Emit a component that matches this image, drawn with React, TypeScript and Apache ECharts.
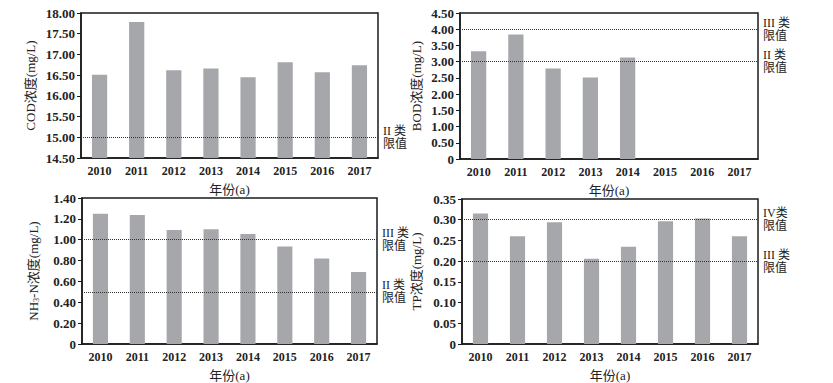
import React, { useEffect, useRef } from "react";
import * as echarts from "echarts";

const years = ["2010", "2011", "2012", "2013", "2014", "2015", "2016", "2017"];
const codValues = [16.51, 17.78, 16.62, 16.66, 16.45, 16.81, 16.57, 16.74];
const bodValues: (number | null)[] = [3.32, 3.84, 2.79, 2.51, 3.13, null, null, null];
const nh3Values = [1.25, 1.237, 1.093, 1.1, 1.055, 0.936, 0.82, 0.69];
const tpValues = [0.315, 0.26, 0.294, 0.206, 0.235, 0.296, 0.303, 0.26];

const codLimits = [{ value: 15, label: "II 类\n限值" }];
const bodLimits = [
  { value: 4, label: "III 类\n限值" },
  { value: 3, label: "II 类\n限值" },
];
const nh3Limits = [
  { value: 1, label: "III 类\n限值" },
  { value: 0.5, label: "II 类\n限值" },
];
const tpLimits = [
  { value: 0.3, label: "IV类\n限值" },
  { value: 0.2, label: "III 类\n限值" },
];

const FONT = "Liberation Serif, Times New Roman, Noto Sans CJK SC, serif";
const TXT = "#222";

export default function App() {
  const ref = useRef<HTMLDivElement>(null);
  useEffect(() => {
    document.body.style.margin = "0";
    const chart = echarts.init(ref.current!, null, { renderer: "svg" });

    const grids = [
      { left: 81, top: 13, width: 297, height: 145 },
      { left: 460, top: 13, width: 298, height: 146 },
      { left: 82, top: 198, width: 295, height: 149 },
      { left: 462, top: 199, width: 296, height: 147 },
    ];
    const yConf = [
      { min: 14.5, max: 18, interval: 0.5, name: "COD浓度(mg/L)", gap: 44 },
      { min: 0, max: 4.5, interval: 0.5, name: "BOD浓度(mg/L)", gap: 37 },
      { min: 0, max: 1.4, interval: 0.2, name: "{a|NH}{s|3}{a|-N浓度(mg/L)}", gap: 42 },
      { min: 0, max: 0.35, interval: 0.05, name: "TP浓度(mg/L)", gap: 39 },
    ];
    const data = [codValues, bodValues, nh3Values, tpValues];
    const limits = [codLimits, bodLimits, nh3Limits, tpLimits];

    chart.setOption({
      animation: false,
      backgroundColor: "#fff",
      textStyle: { fontFamily: FONT },
      grid: grids.map((g) => ({
        ...g,
        show: true,
        borderColor: "#1a1a1a",
        borderWidth: 1.5,
        backgroundColor: "transparent",
      })),
      xAxis: grids.map((_, i) => ({
        type: "category",
        gridIndex: i,
        data: years,
        name: "年份(a)",
        nameLocation: "middle",
        nameGap: 25,
        nameTextStyle: { fontFamily: FONT, fontSize: 13, color: TXT },
        axisLine: { lineStyle: { color: "#1a1a1a", width: 1.5 } },
        axisTick: { show: false },
        axisLabel: {
          fontFamily: FONT,
          fontSize: 12,
          fontWeight: "bold",
          color: TXT,
          margin: 7,
        },
        splitLine: { show: false },
      })),
      yAxis: yConf.map((c, i) => ({
        type: "value",
        gridIndex: i,
        min: c.min,
        max: c.max,
        interval: c.interval,
        name: c.name,
        nameLocation: "middle",
        nameRotate: 90,
        nameGap: c.gap,
        nameTextStyle: {
          fontFamily: FONT,
          fontSize: 13,
          color: TXT,
          rich: {
            a: { fontFamily: FONT, fontSize: 13, color: TXT },
            s: { fontFamily: FONT, fontSize: 8, color: TXT, verticalAlign: "bottom", padding: [6, 0, 0, 0] },
          },
        },
        axisLine: { show: true, lineStyle: { color: "#1a1a1a", width: 1.5 } },
        axisTick: { show: true, inside: false, length: 4, lineStyle: { color: "#1a1a1a" } },
        axisLabel: {
          fontFamily: FONT,
          fontSize: 13,
          fontWeight: "bold",
          color: TXT,
          margin: 6,
          formatter: (v: number) => (v === 0 ? "0" : v.toFixed(2)),
        },
        splitLine: { show: false },
      })),
      series: data.map((d, i) => ({
        type: "bar",
        xAxisIndex: i,
        yAxisIndex: i,
        data: d.map((v) => (v === null ? "-" : v)),
        barWidth: "41%",
        itemStyle: { color: "#a6a7ab" },
        markLine: {
          silent: true,
          symbol: "none",
          lineStyle: { type: "dotted", color: "#333", width: 1 },
          label: {
            show: true,
            position: "end",
            distance: 5,
            fontFamily: FONT,
            fontSize: 12,
            lineHeight: 13,
            color: TXT,
            formatter: (p: any) => p.name,
          },
          data: limits[i].map((l) => ({ yAxis: l.value, name: l.label })),
        },
      })),
    });
    return () => chart.dispose();
  }, []);
  return <div ref={ref} style={{ width: 833, height: 383 }} />;
}
